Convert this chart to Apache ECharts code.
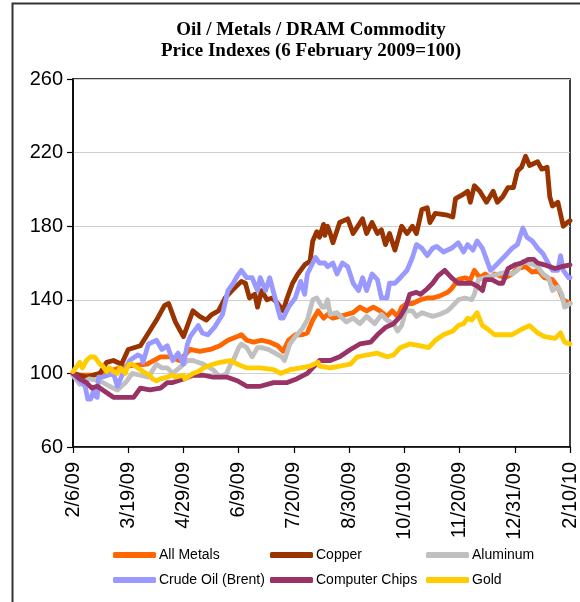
<!DOCTYPE html>
<html>
<head>
<meta charset="utf-8">
<script src="https://cdn.jsdelivr.net/npm/echarts@6/dist/echarts.min.js"></script>
<style>
  html, body { margin: 0; padding: 0; background: #fff; }
  #chart { width: 580px; height: 602px; }
</style>
</head>
<body>
<div id="chart"></div>
<script>
// Days since 6 Feb 2009 paired with the index value (6 Feb 2009 = 100)
const dateLabels = ['2/6/09', '3/19/09', '4/29/09', '6/9/09', '7/20/09', '8/30/09', '10/10/09', '11/20/09', '12/31/09', '2/10/10'];
const tickStepDays = 41;

const allMetals = [[0,99],[15,99],[30,102],[40,104],[55,105],[65,109],[72,109],[79,107],[87,113],[94,112],[102,113],[109,115],[115,118],[122,120],[125,121],[129,118],[134,117],[140,118],[146,117],[152,115],[156,112],[160,118],[165,121],[170,121],[174,122],[178,129],[182,134],[186,130],[189,132],[193,130],[203,132],[208,133],[213,136],[218,134],[223,136],[228,134],[233,131],[237,134],[241,131],[244,136],[248,138],[252,138],[258,140],[263,141],[267,141],[272,142],[278,144],[281,146],[286,151],[291,152],[295,151],[298,156],[302,152],[306,154],[310,152],[313,154],[321,152],[326,154],[330,157],[336,158],[341,155],[345,156],[350,152],[356,151],[360,147],[364,140],[369,138]];

const copper = [[0,100],[10,98],[20,100],[25,106],[30,107],[36,105],[41,113],[50,115],[56,122],[62,129],[68,137],[71,138],[76,128],[82,120],[85,126],[89,134],[94,131],[99,129],[103,132],[108,134],[113,141],[118,145],[125,150],[128,149],[131,141],[135,143],[137,136],[140,145],[144,140],[148,141],[152,138],[156,134],[159,141],[163,149],[167,154],[172,159],[176,161],[178,172],[181,177],[183,174],[186,181],[187,175],[189,180],[191,176],[193,171],[198,182],[204,184],[208,176],[215,184],[218,176],[222,182],[226,176],[229,178],[232,170],[235,176],[239,167],[244,180],[248,176],[252,180],[255,176],[259,189],[263,190],[265,182],[269,187],[278,186],[282,185],[284,195],[289,197],[293,199],[295,193],[298,202],[302,199],[307,193],[312,199],[315,193],[319,196],[323,201],[327,201],[330,210],[333,212],[336,218],[339,213],[345,215],[348,211],[352,212],[354,196],[356,191],[360,193],[364,180],[367,182],[369,183]];

const aluminum = [[0,99],[5,94],[12,97],[20,96],[27,93],[33,91],[39,95],[44,100],[50,99],[56,98],[62,105],[66,103],[70,103],[74,100],[79,103],[85,107],[89,107],[97,105],[104,102],[109,98],[114,100],[117,105],[119,107],[123,114],[125,116],[129,114],[133,109],[137,114],[140,114],[145,113],[150,111],[155,109],[157,107],[161,116],[165,120],[170,124],[174,129],[178,140],[181,141],[185,136],[187,136],[189,140],[191,132],[196,133],[200,130],[203,128],[208,130],[213,127],[218,131],[224,127],[229,132],[233,129],[238,127],[241,123],[244,126],[247,134],[252,134],[255,131],[259,133],[263,132],[267,131],[272,132],[278,134],[281,136],[286,140],[291,141],[296,140],[298,143],[301,151],[306,152],[311,153],[316,154],[321,155],[326,154],[330,156],[334,161],[338,160],[342,159],[345,158],[349,154],[353,152],[356,145],[360,147],[363,143],[365,136],[369,138]];

const crudeOil = [[0,100],[1,101],[5,96],[9,93],[11,86],[13,86],[15,90],[16,88],[18,87],[19,98],[22,98],[26,99],[30,100],[33,93],[37,100],[42,107],[48,110],[51,109],[52,106],[56,116],[62,118],[66,113],[70,115],[74,107],[78,111],[82,105],[85,116],[87,120],[89,122],[93,126],[94,125],[96,122],[100,121],[105,125],[111,132],[115,145],[119,149],[122,153],[125,156],[129,152],[133,152],[137,145],[139,152],[143,145],[146,152],[150,141],[154,130],[156,130],[160,136],[165,141],[169,150],[172,143],[174,154],[180,163],[183,160],[187,160],[189,158],[193,160],[196,154],[200,160],[204,158],[208,149],[212,145],[215,152],[218,145],[222,154],[226,151],[229,141],[233,141],[235,149],[239,149],[243,152],[248,156],[252,163],[255,170],[259,168],[263,164],[267,168],[270,169],[275,166],[281,168],[286,171],[290,166],[293,170],[297,167],[300,172],[304,168],[307,162],[310,156],[313,158],[317,161],[321,164],[326,168],[330,170],[334,179],[337,174],[341,172],[345,168],[349,165],[352,161],[356,156],[360,156],[362,164],[364,156],[368,152],[369,152]];

const computerChips = [[0,100],[5,97],[10,95],[14,92],[18,93],[24,90],[30,87],[37,87],[45,87],[50,92],[57,91],[65,92],[70,95],[74,95],[82,97],[89,99],[97,99],[104,98],[114,98],[122,96],[129,93],[139,93],[149,95],[159,95],[166,97],[174,100],[183,107],[191,107],[198,109],[206,113],[213,116],[221,117],[226,121],[232,125],[238,127],[243,131],[247,136],[250,143],[255,144],[258,143],[263,146],[267,149],[271,153],[276,156],[281,152],[286,149],[291,149],[296,149],[301,147],[304,145],[306,151],[311,151],[316,149],[319,149],[323,157],[328,159],[333,160],[338,162],[342,162],[345,160],[350,159],[354,158],[358,157],[363,158],[369,159]];

const gold = [[0,101],[5,106],[7,103],[10,107],[13,109],[16,109],[20,105],[22,104],[25,101],[27,103],[30,101],[33,100],[35,103],[39,100],[40,103],[42,105],[44,105],[48,103],[52,101],[53,100],[57,99],[59,97],[62,96],[65,97],[70,98],[74,99],[76,98],[82,99],[83,97],[89,100],[93,101],[97,103],[104,105],[109,106],[117,107],[122,105],[129,103],[139,103],[149,102],[154,100],[161,102],[169,103],[176,104],[182,106],[183,104],[191,103],[198,104],[206,105],[211,109],[218,110],[226,111],[233,109],[238,110],[243,114],[250,116],[258,115],[264,114],[269,118],[275,121],[282,123],[286,126],[290,127],[293,130],[296,129],[300,133],[304,126],[308,124],[313,121],[319,121],[326,121],[333,124],[339,126],[345,122],[350,120],[358,119],[362,122],[365,117],[369,116]];

const seriesDefs = [
  { name: 'All Metals', data: allMetals, color: '#FF6600' },
  { name: 'Copper', data: copper, color: '#993300' },
  { name: 'Aluminum', data: aluminum, color: '#C0C0C0' },
  { name: 'Crude Oil (Brent)', data: crudeOil, color: '#9999FF' },
  { name: 'Computer Chips', data: computerChips, color: '#993366' },
  { name: 'Gold', data: gold, color: '#FFCC00' }
];

const titleLines = ['Oil / Metals / DRAM Commodity', 'Price Indexes (6 February 2009=100)'];
const titleFont = 'bold 19px "Liberation Serif", "DejaVu Serif", serif';

// Legend grid: three columns, two rows
const legendCols = [113, 270, 426];
const legendRows = [548, 573];

const chart = echarts.init(document.getElementById('chart'), null, { renderer: 'canvas' });

const option = {
  animation: false,
  backgroundColor: '#fff',
  graphic: [
    { type: 'rect', z: 100, silent: true,
      shape: { x: 12.5, y: 3.5, width: 800, height: 800 },
      style: { fill: 'none', stroke: '#333', lineWidth: 2 } },
    ...titleLines.map((t, i) => ({
      type: 'text', z: 100, silent: true,
      style: { text: t, x: 311, y: 30 + i * 21, textAlign: 'center', textVerticalAlign: 'middle',
               font: titleFont, fill: '#000' }
    }))
  ],
  legend: seriesDefs.map((s, i) => ({
    data: [s.name],
    left: legendCols[i % 3],
    top: legendRows[Math.floor(i / 3)],
    padding: 0,
    itemWidth: 43,
    itemHeight: 6,
    itemGap: 0,
    icon: 'roundRect',
    selectedMode: false,
    textStyle: { fontFamily: '"Liberation Sans", Arial, sans-serif', fontSize: 14, color: '#000', padding: [0, 0, 0, -2] }
  })),
  grid: {
    left: 73, top: 79, right: 10, bottom: 155,
    show: true, borderColor: '#000', borderWidth: 1.5, backgroundColor: 'transparent'
  },
  xAxis: {
    type: 'value',
    min: 0,
    max: tickStepDays * (dateLabels.length - 1),
    interval: tickStepDays,
    axisLine: { show: true, onZero: false, lineStyle: { color: '#000', width: 1.5 } },
    axisTick: { show: true, length: 6, lineStyle: { color: '#000', width: 1.2 } },
    splitLine: { show: false },
    axisLabel: {
      rotate: 90,
      margin: 15,
      fontFamily: '"Liberation Sans", Arial, sans-serif',
      fontSize: 20,
      color: '#000',
      showMinLabel: true,
      showMaxLabel: true,
      formatter: v => dateLabels[Math.round(v / tickStepDays)] || ''
    }
  },
  yAxis: {
    type: 'value',
    min: 60,
    max: 260,
    interval: 40,
    axisLine: { show: true, lineStyle: { color: '#000', width: 1.5 } },
    axisTick: { show: true, length: 6, lineStyle: { color: '#000', width: 1.2 } },
    splitLine: { show: true, lineStyle: { color: '#d0d0d0', width: 1 } },
    axisLabel: {
      margin: 10,
      fontFamily: '"Liberation Sans", Arial, sans-serif',
      fontSize: 20,
      color: '#000'
    }
  },
  series: seriesDefs.map(s => ({
    name: s.name,
    type: 'line',
    data: s.data,
    showSymbol: false,
    symbol: 'none',
    color: s.color,
    lineStyle: { color: s.color, width: 4.8, cap: 'round', join: 'round' },
    itemStyle: { color: s.color },
    emphasis: { disabled: true }
  }))
};

chart.setOption(option);
</script>
</body>
</html>
